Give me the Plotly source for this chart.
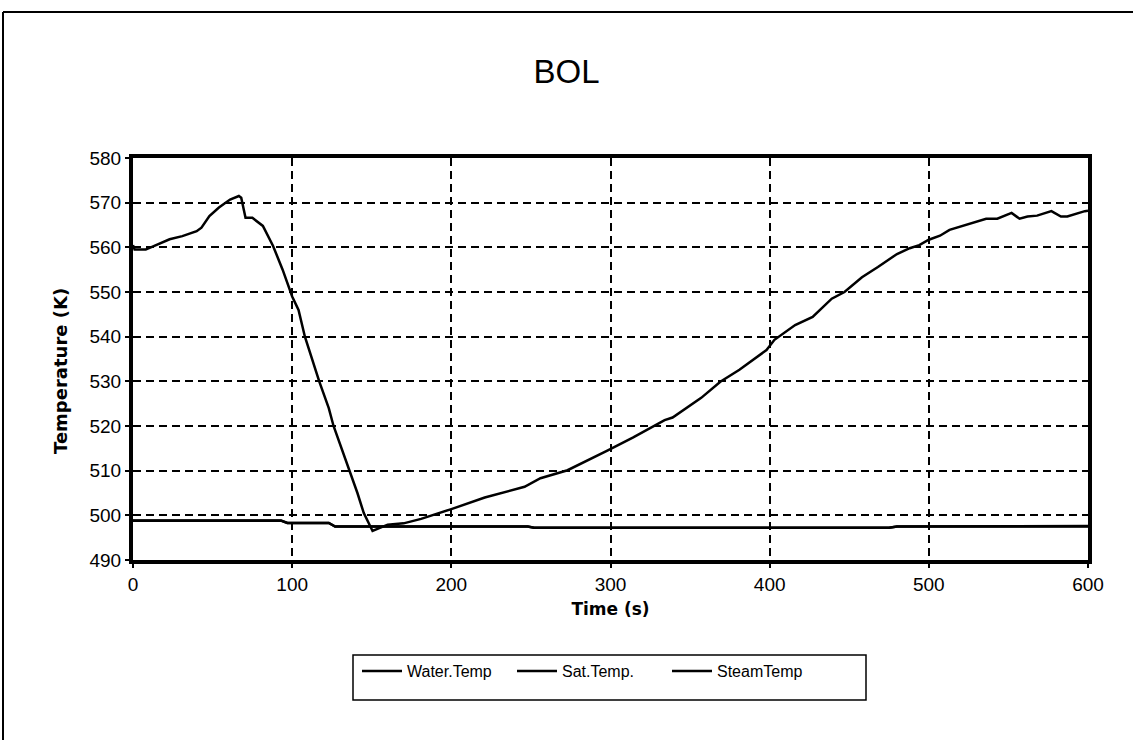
import plotly.graph_objects as go

# ---- data ----
steam_time = [0, 1, 8, 15, 23, 31, 40, 43, 48, 54, 61, 66.5, 68, 70.7, 75, 81.6, 88, 94, 100, 104,
              108, 117, 123, 126, 131, 136, 141, 145, 150.5, 160, 170, 181, 189, 200, 221, 246, 256,
              273, 298, 314, 334, 339, 357, 369, 381, 398, 403, 416, 427, 439, 447, 458, 468, 480,
              488, 494, 500, 507, 513, 522, 530, 536, 543, 552, 557, 562, 568, 577, 583, 587, 598, 600]
steam_temp = [560.5, 559.5, 559.5, 560.6, 561.8, 562.5, 563.6, 564.4, 567.0, 568.9, 570.7, 571.5,
              571.1, 566.6, 566.6, 564.8, 560.3, 555.0, 549.0, 546.0, 540.0, 530.0, 524.0, 520.0,
              515.0, 510.0, 505.0, 500.5, 496.5, 497.9, 498.2, 499.2, 500.2, 501.4, 504.0, 506.4,
              508.3, 510.1, 514.5, 517.4, 521.3, 521.9, 526.3, 529.9, 532.6, 537.0, 539.3, 542.6,
              544.4, 548.5, 550.0, 553.3, 555.6, 558.5, 559.8, 560.5, 561.7, 562.6, 563.9, 564.9,
              565.8, 566.4, 566.4, 567.7, 566.4, 566.9, 567.1, 568.1, 566.9, 566.9, 568.1, 568.2]

sat_time = [0, 93, 97, 123, 127, 248, 252, 475, 480, 600]
sat_temp = [498.85, 498.85, 498.3, 498.3, 497.5, 497.5, 497.2, 497.2, 497.5, 497.5]

water_time = [0, 93, 97, 123, 127, 248, 252, 475, 480, 600]
water_temp = [498.8, 498.8, 498.3, 498.3, 497.5, 497.5, 497.2, 497.2, 497.5, 497.6]

x_ticks = [0, 100, 200, 300, 400, 500, 600]
y_ticks = [490, 500, 510, 520, 530, 540, 550, 560, 570, 580]

NARROW = "Liberation Sans Narrow, Arial Narrow, Liberation Sans, Arial, sans-serif"
SANS = "Liberation Sans, Arial, sans-serif"
BOLD = "DejaVu Sans, Verdana, sans-serif"

fig = go.Figure()
line_style = dict(color="black", width=2.5)
fig.add_trace(go.Scatter(x=water_time, y=water_temp, mode="lines", name="Water.Temp", line=line_style))
fig.add_trace(go.Scatter(x=sat_time, y=sat_temp, mode="lines", name="Sat.Temp.", line=line_style))
fig.add_trace(go.Scatter(x=steam_time, y=steam_temp, mode="lines", name="SteamTemp", line=line_style))

W, H = 1133, 740
L, R, T, B = 133, 45, 158, 180
pw, ph = W - L - R, H - T - B

def px_x(p):
    return (p - L) / pw

def px_y(p):
    return (H - B - p) / ph

fig.update_layout(
    width=W, height=H,
    margin=dict(l=L, r=R, t=T, b=B, pad=0),
    paper_bgcolor="white", plot_bgcolor="white",
    title=dict(text="BOL", x=0.5, xref="container", xanchor="center",
               y=1 - 71 / H, yref="container", yanchor="middle",
               font=dict(family=NARROW, size=33, color="black")),
    xaxis=dict(range=[0, 600], tickvals=x_ticks, ticktext=[str(v) for v in x_ticks],
               showgrid=True, gridcolor="black", griddash="8px,5px", gridwidth=1.5,
               showline=True, linecolor="black", linewidth=4, mirror=True,
               ticks="outside", ticklen=4, tickwidth=2, tickcolor="black",
               tickfont=dict(family=SANS, size=19, color="black"),
               zeroline=False,
               title=dict(text="<b>Time (s)</b>", font=dict(family=BOLD, size=17, color="black"),
                          standoff=10)),
    yaxis=dict(range=[490, 580], tickvals=y_ticks, ticktext=[str(v) for v in y_ticks],
               showgrid=True, gridcolor="black", griddash="8px,5px", gridwidth=1.5,
               showline=True, linecolor="black", linewidth=4, mirror=True,
               ticks="outside", ticklen=4, tickwidth=2, tickcolor="black",
               tickfont=dict(family=NARROW, size=19, color="black"),
               zeroline=False),
    showlegend=True,
    legend=dict(orientation="h", x=px_x(357), xanchor="left", y=px_y(654), yanchor="top",
                bgcolor="rgba(0,0,0,0)", borderwidth=0,
                font=dict(family=NARROW, size=16, color="black"),
                entrywidth=100, entrywidthmode="pixels", itemwidth=40, tracegroupgap=0),
    annotations=[
        dict(text="<b>Temperature (K)</b>", x=px_x(60), y=px_y(371), xref="paper", yref="paper",
             textangle=-90, showarrow=False, xanchor="center", yanchor="middle",
             font=dict(family=BOLD, size=18, color="black")),
    ],
    shapes=[
        # outer chart border (left and top)
        dict(type="line", xref="paper", yref="paper", x0=px_x(3), x1=px_x(3),
             y0=px_y(745), y1=px_y(12), line=dict(color="black", width=2)),
        dict(type="line", xref="paper", yref="paper", x0=px_x(3), x1=px_x(1140),
             y0=px_y(12), y1=px_y(12), line=dict(color="black", width=2)),
        # legend box
        dict(type="rect", xref="paper", yref="paper", x0=px_x(353), x1=px_x(866),
             y0=px_y(700), y1=px_y(655), line=dict(color="black", width=1.5)),
    ],
)

fig.write_html("out.html")
